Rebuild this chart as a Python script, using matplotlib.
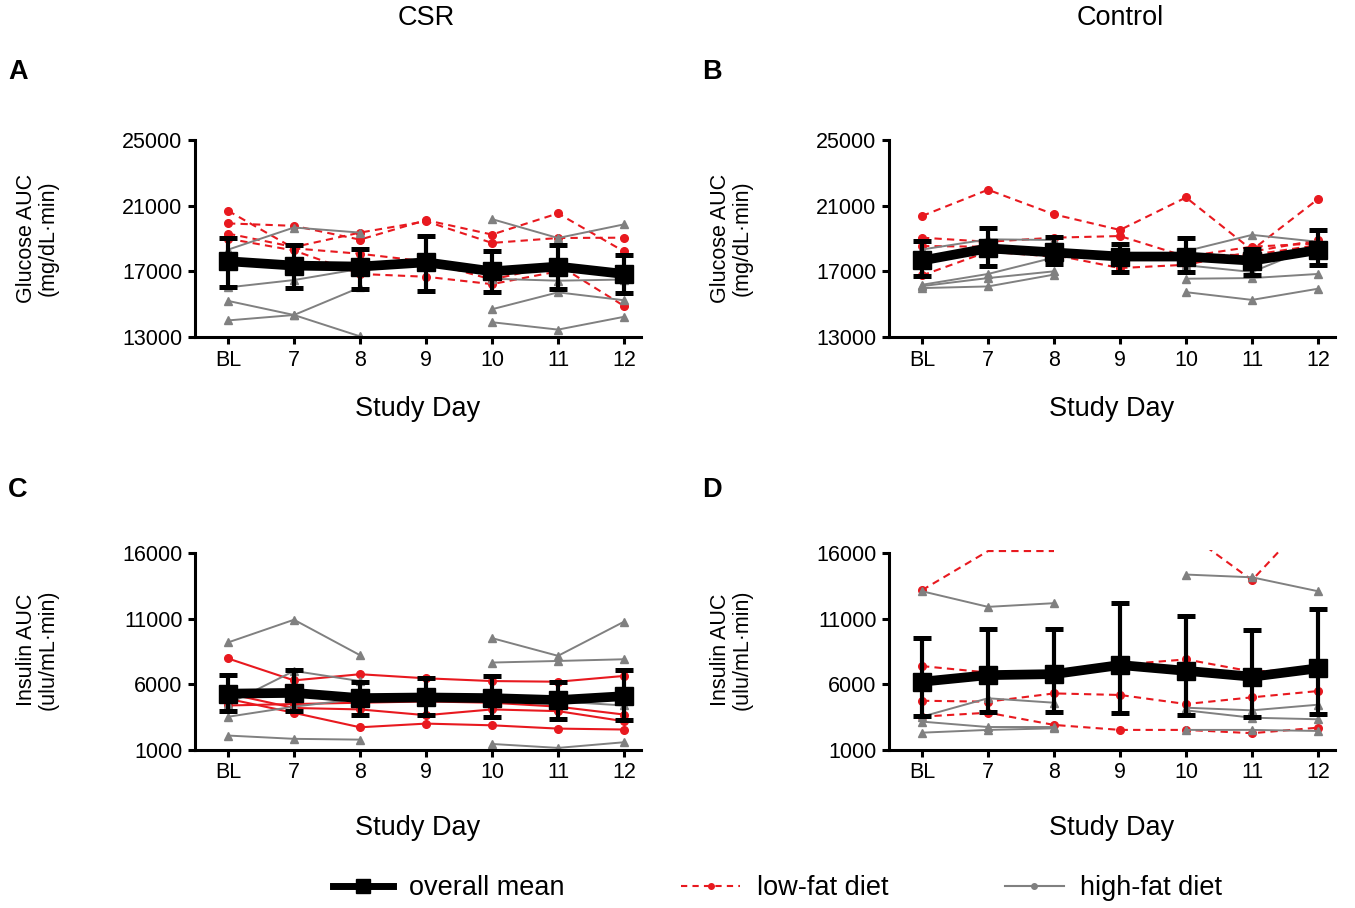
import numpy as np
import matplotlib
matplotlib.use('Agg')
import matplotlib.pyplot as plt
from matplotlib.lines import Line2D

plt.rcParams['font.family'] = ['Liberation Sans', 'DejaVu Sans']

nan = np.nan
days = ['BL', '7', '8', '9', '10', '11', '12']

# A: CSR glucose AUC
a_mean = [17615, 17350, 17290, 17550, 17000, 17290, 16840]
a_upper = [19000, 18580, 18380, 19140, 18230, 18580, 17970]
a_lower = [16020, 15980, 15920, 15810, 15750, 15920, 15710]
a_low_fat = [
    [20690, 18400, 18070, 17600, 16500, 17400, 14890],
    [19920, 19770, 18930, 20120, 19240, 20530, 18210],
    [19300, 18480, 19360, 20050, 18730, 19030, 19050],
    [18990, 18270, 16840, 16670, 16220, 17000, 17040],
]
a_high_fat = [
    [18320, 19670, 19360, nan, 20180, 19030, 19860],
    [16020, 16470, 17150, nan, 16550, 16430, 16500],
    [15200, 14340, 16020, nan, 14690, 15720, 15240],
    [14010, 14340, 13040, nan, 13900, 13450, 14230],
]

# B: Control glucose AUC
b_mean = [17660, 18400, 18150, 17900, 17900, 17650, 18300]
b_upper = [18850, 19650, 19090, 18640, 19060, 18340, 19500]
b_lower = [16740, 17310, 17460, 16960, 16960, 16800, 17370]
b_low_fat = [
    [20370, 21970, 20470, 19520, 21500, 18300, 21400],
    [19050, 18800, 19050, 19150, 17900, 18500, 18700],
    [18540, 18500, 18000, 17200, 17400, 18200, 18900],
    [16750, 18200, 17900, 17800, 18000, 18000, 18600],
]
b_high_fat = [
    [18330, 18950, 18910, nan, 18230, 19220, 18800],
    [16180, 16840, 17840, nan, 17370, 16960, 18600],
    [16100, 16590, 17000, nan, 16550, 16590, 16840],
    [15980, 16080, 16800, nan, 15730, 15260, 15940],
]

# C: CSR insulin AUC
c_mean = [5290, 5350, 4950, 5000, 4950, 4800, 5100]
c_upper = [6690, 7100, 6180, 6460, 6640, 6180, 7070]
c_lower = [3960, 3960, 3700, 3630, 3530, 3380, 3320]
c_low_fat = [
    [7970, 6300, 6770, 6460, 6250, 6200, 6640],
    [4900, 3830, 2730, 3010, 2880, 2630, 2560],
    [4390, 4500, 4600, 4700, 4600, 4300, 3700],
    [5300, 4200, 4090, 3650, 4090, 3960, 3190],
]
c_high_fat = [
    [9190, 10920, 8220, nan, 9520, 8170, 10770],
    [4500, 7020, 6250, nan, 7660, 7780, 7910],
    [3530, 4300, 4900, nan, 4900, 4700, 4390],
    [2100, 1850, 1790, nan, 1460, 1160, 1590],
]

# D: Control insulin AUC
d_mean = [6200, 6700, 6780, 7470, 7030, 6580, 7220]
d_upper = [9540, 10200, 10180, 12160, 11190, 10130, 11700]
d_lower = [3590, 3870, 3870, 3840, 3670, 3540, 3720]
d_low_fat = [
    [13170, 16150, 16150, nan, 17600, 13930, 19300],
    [7390, 6900, 6950, 7500, 7900, 6970, 7200],
    [4750, 4680, 5310, 5190, 4500, 5010, 5490],
    [3540, 3840, 2910, 2530, 2530, 2280, 2700],
]
d_high_fat = [
    [13090, 11900, 12180, nan, 14360, 14150, 13090],
    [3540, 4940, 4600, nan, 4220, 4020, 4450],
    [3160, 2750, 2750, nan, 4020, 3460, 3340],
    [2320, 2530, 2650, nan, 2530, 2530, 2450],
]

RED = '#e8191f'
GRAY = '#808080'
FS = 15.5      # tick labels, y labels
FS_BIG = 19.5  # x labels, titles, legend


def draw_panel(ax, mean, upper, lower, low_fat, high_fat, yticks, ytop,
               red_ls, ylabel):
    x = np.arange(len(days))
    for subj in low_fat:
        v = np.array(subj, dtype=float)
        if red_ls == '--':
            ax.plot(x, v, color=RED, lw=1.5, ls='--', dashes=(3.5, 2.5), zorder=2)
        else:
            ax.plot(x, v, color=RED, lw=1.5, zorder=2)
        # points beyond the axis range are not drawn, only their line
        shown = np.where(v <= yticks[-1], v, nan)
        ax.plot(x, shown, ls='none', marker='o', ms=5.5, color=RED, zorder=2)
    for subj in high_fat:
        ax.plot(x, subj, color=GRAY, lw=1.4, marker='^', ms=5.5, zorder=2)
    m = np.array(mean)
    yerr = [m - np.array(lower), np.array(upper) - m]
    ax.errorbar(x, m, yerr=yerr, color='black', lw=7, marker='s', ms=13,
                elinewidth=3, capsize=6.2, capthick=3.6, zorder=3)

    ax.set_xlim(-0.5, 6.25)
    ax.set_ylim(yticks[0], ytop)
    ax.set_xticks(x)
    ax.set_xticklabels(days)
    ax.set_yticks(yticks)
    ax.spines['top'].set_visible(False)
    ax.spines['right'].set_visible(False)
    ax.spines['left'].set_bounds(yticks[0], yticks[-1])
    for s in ('left', 'bottom'):
        ax.spines[s].set_linewidth(2.2)
    ax.tick_params(width=2.2, length=5, labelsize=FS, pad=4)
    ax.set_xlabel('Study Day', fontsize=FS_BIG)
    ax.set_ylabel(ylabel, fontsize=FS, linespacing=1.05)


fig = plt.figure(figsize=(13.55, 9.08), dpi=100)
W, H = 1355.0, 908.0
axw = 445.5 / W

ax_a = fig.add_axes([195 / W, 1 - 337 / H, axw, 197 / H])
ax_b = fig.add_axes([889 / W, 1 - 337 / H, axw, 197 / H])
ax_c = fig.add_axes([195 / W, 1 - 750 / H, axw, 200 / H])
ax_d = fig.add_axes([889 / W, 1 - 750 / H, axw, 200 / H])

glu_ticks = [13000, 17000, 21000, 25000]
ins_ticks = [1000, 6000, 11000, 16000]
glu_label = 'Glucose AUC\n(mg/dL\u00b7min)'
ins_label = 'Insulin AUC\n(ulu/mL\u00b7min)'

draw_panel(ax_a, a_mean, a_upper, a_lower, a_low_fat, a_high_fat,
           glu_ticks, 25000, '--', glu_label)
draw_panel(ax_b, b_mean, b_upper, b_lower, b_low_fat, b_high_fat,
           glu_ticks, 25000, '--', glu_label)
draw_panel(ax_c, c_mean, c_upper, c_lower, c_low_fat, c_high_fat,
           ins_ticks, 16230, '-', ins_label)
draw_panel(ax_d, d_mean, d_upper, d_lower, d_low_fat, d_high_fat,
           ins_ticks, 16230, '--', ins_label)

for ax in (ax_a, ax_b):
    ax.yaxis.set_label_coords(-0.306, 0.5)
    ax.xaxis.set_label_coords(0.5, -0.30)
for ax in (ax_c, ax_d):
    ax.yaxis.set_label_coords(-0.306, 0.5)
    ax.xaxis.set_label_coords(0.5, -0.325)

fig.text(426 / W, 1 - 18 / H, 'CSR', fontsize=FS_BIG, ha='center', va='center')
fig.text(1120 / W, 1 - 18 / H, 'Control', fontsize=FS_BIG, ha='center', va='center')
for lab, px, py in [('A', 18, 72), ('B', 712, 72), ('C', 18, 490), ('D', 712, 490)]:
    fig.text(px / W, 1 - py / H, lab, fontsize=FS_BIG, fontweight='bold',
             ha='center', va='center')

handles = [
    Line2D([], [], color='black', lw=5, marker='s', ms=10),
    Line2D([], [], color=RED, lw=1.5, ls='--', dashes=(3, 2.5), marker='o', ms=4),
    Line2D([], [], color=GRAY, lw=1.5, marker='o', ms=4),
]
fig.legend(handles, ['overall mean', 'low-fat diet', 'high-fat diet'],
           loc='center', bbox_to_anchor=(0.574, 1 - 888 / H), ncol=3,
           frameon=False, fontsize=FS_BIG, handlelength=2.2, columnspacing=4.3,
           handletextpad=0.6)

fig.savefig('out.png', dpi=100)
